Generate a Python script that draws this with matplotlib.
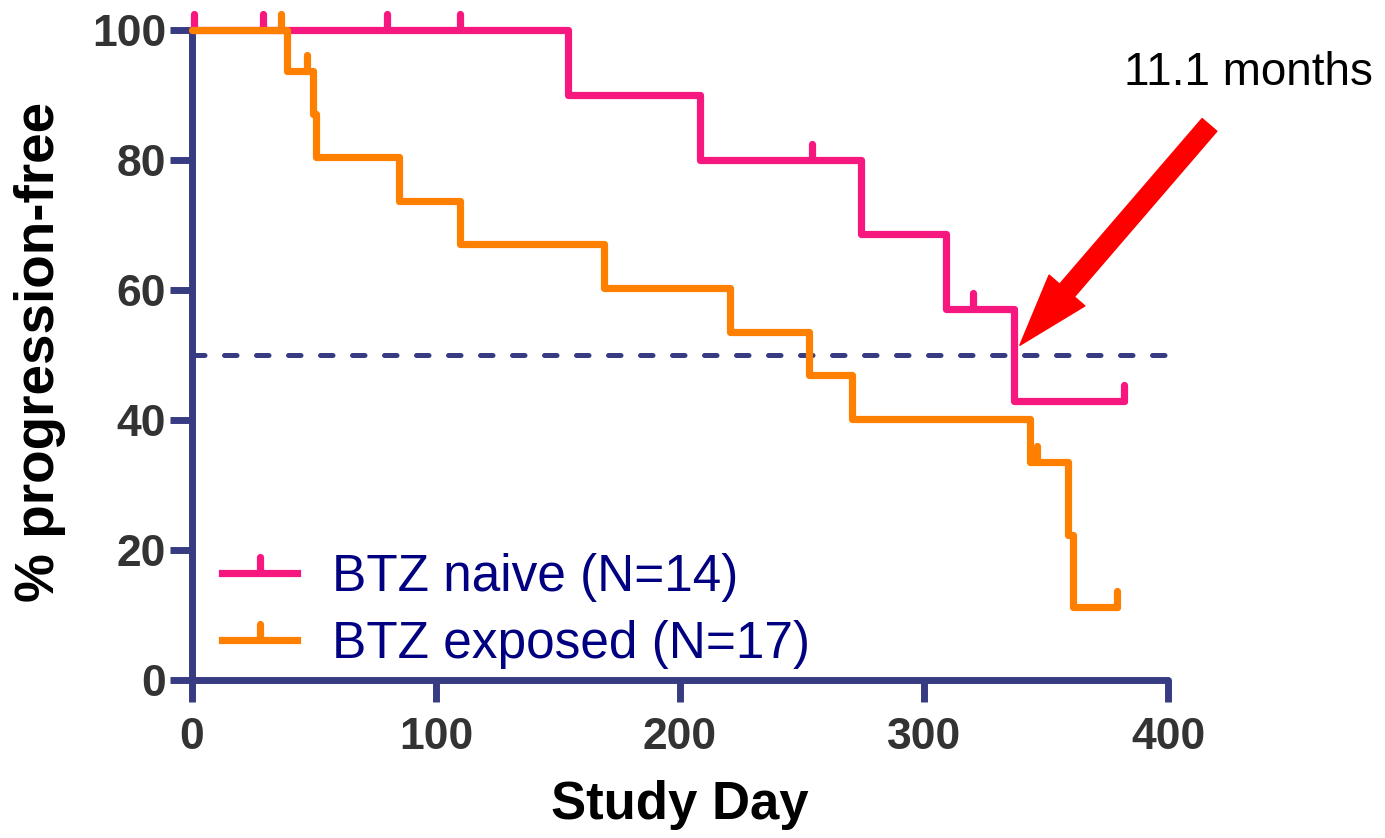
import matplotlib
matplotlib.use('Agg')
import matplotlib.pyplot as plt
from matplotlib.lines import Line2D
from matplotlib.markers import MarkerStyle
from matplotlib.patches import FancyArrowPatch

plt.rcParams['font.family'] = ['Liberation Sans', 'DejaVu Sans']

# Kaplan-Meier steps
naive_days = [0, 154, 208, 274, 309, 337, 382]
naive_pct = [100, 90, 80, 68.6, 57.1, 42.9, 42.9]
naive_cens_days = [1, 29, 80, 110, 254, 320, 382]
naive_cens_pct = [100, 100, 100, 100, 80, 57.1, 42.9]

exposed_days = [0, 39, 49.6, 50.8, 85, 110, 169, 220.5, 253, 270.5, 343.5, 359, 361, 379]
exposed_pct = [100, 93.75, 87.1, 80.4, 73.7, 67.0, 60.3, 53.6, 46.9, 40.2, 33.5, 22.3, 11.2, 11.2]
exposed_cens_days = [36.5, 47, 346.5, 379]
exposed_cens_pct = [100, 93.75, 33.5, 11.2]

labels = ['BTZ naive (N=14)', 'BTZ exposed (N=17)']
median_label = '11.1 months'

pink = '#f7187f'
orange = '#ff8000'
navy = '#373c82'

fig = plt.figure(figsize=(13.85, 8.38), dpi=100)
ax = fig.add_axes([192 / 1385, 158 / 838, 976 / 1385, 650 / 838])

tick_mark = MarkerStyle(2, capstyle='round')
lw = 5.2

ax.axhline(50, color=navy, lw=3.6, dashes=(2.5, 3.9), dash_capstyle='round', zorder=1)

for d, p, cd, cp, c in [(naive_days, naive_pct, naive_cens_days, naive_cens_pct, pink),
                        (exposed_days, exposed_pct, exposed_cens_days, exposed_cens_pct, orange)]:
    ax.step(d, p, where='post', color=c, lw=lw, solid_joinstyle='round',
            solid_capstyle='round', clip_on=False, zorder=3)
    ax.plot(cd, cp, linestyle='none', marker=tick_mark, markersize=11.5,
            mew=lw, color=c, clip_on=False, zorder=3)

ax.set_xlim(0, 400)
ax.set_ylim(0, 100)
ax.set_xticks([0, 100, 200, 300, 400])
ax.set_yticks([0, 20, 40, 60, 80, 100])

for s in ['top', 'right']:
    ax.spines[s].set_visible(False)
for s in ['left', 'bottom']:
    ax.spines[s].set_color(navy)
    ax.spines[s].set_linewidth(5)
    ax.spines[s].set_capstyle('round')
    ax.spines[s].set_zorder(2)

ax.tick_params(axis='both', direction='out', length=15.5, width=5, color=navy,
               labelsize=32, labelcolor='#333333')
ax.tick_params(axis='y', pad=3)
ax.tick_params(axis='x', pad=11)
for lab in ax.get_xticklabels() + ax.get_yticklabels():
    lab.set_fontweight('bold')

ax.set_xlabel('Study Day', fontsize=38, fontweight='bold', va='center')
ax.xaxis.set_label_coords(0.5, -0.192)
ax.set_ylabel('% progression-free', fontsize=39.5, fontweight='bold', va='center')
ax.yaxis.set_label_coords(-0.156, 0.505)

handles = [Line2D([], [], color=pink, lw=lw, marker=tick_mark, markersize=11.5, mew=lw),
           Line2D([], [], color=orange, lw=lw, marker=tick_mark, markersize=11.5, mew=lw)]
leg = ax.legend(handles, labels, loc='lower left', bbox_to_anchor=(0.031, 0.017),
                frameon=False, fontsize=37, handlelength=1.45, handletextpad=0.68,
                labelspacing=0.35, borderpad=0, borderaxespad=0)
for t in leg.get_texts():
    t.set_color('#000080')

ax.text(433, 93.4, median_label, fontsize=33, ha='center', va='center', clip_on=False)
arrow = FancyArrowPatch((417, 85.4), (339.3, 51.5),
                        arrowstyle='simple,head_length=52,head_width=34,tail_width=14',
                        mutation_scale=1, color='#ff0000', shrinkA=0, shrinkB=0,
                        clip_on=False, zorder=4)
ax.add_patch(arrow)

fig.savefig('out.png', dpi=100)
